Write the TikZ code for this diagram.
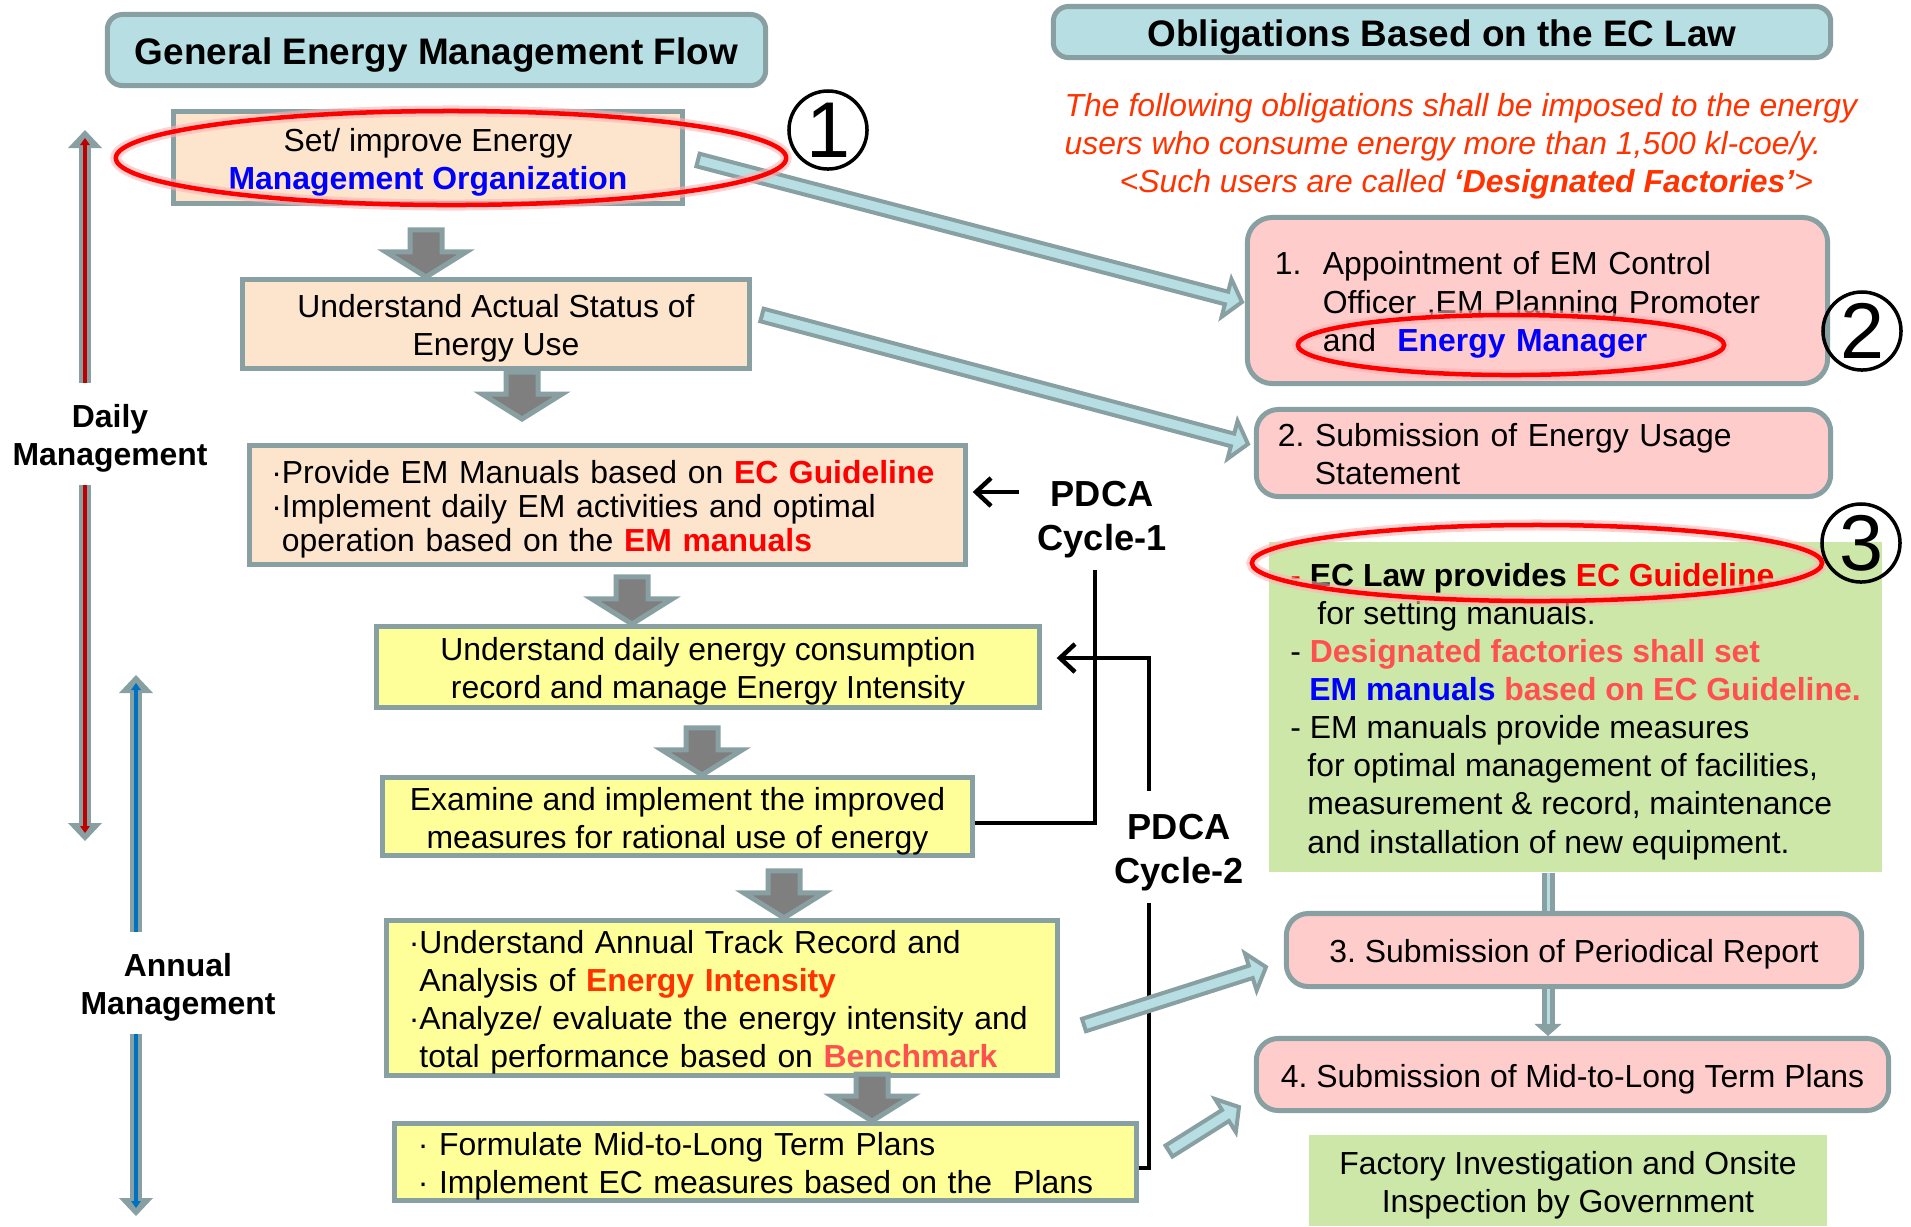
\documentclass[tikz,border=0pt]{standalone}
\usepackage{fontspec}
\setmainfont{Liberation Sans}
\usetikzlibrary{arrows.meta,calc}
\frenchspacing

\definecolor{frame}{RGB}{137,160,163}
\definecolor{lightteal}{RGB}{183,222,226}
\definecolor{peach}{RGB}{253,228,205}
\definecolor{lemon}{RGB}{255,255,153}
\definecolor{rose}{RGB}{255,204,204}
\definecolor{leaf}{RGB}{204,231,168}
\definecolor{arrowgray}{RGB}{127,127,127}
\definecolor{noteorange}{RGB}{255,51,0}
\definecolor{salmon}{RGB}{255,80,80}
\definecolor{dailyred}{RGB}{192,0,0}
\definecolor{annualblue}{RGB}{0,112,192}

\newcommand\bodyfont{\fontsize{9.07pt}{10.85pt}\selectfont}
\newcommand\headfont{\fontsize{10.5pt}{12pt}\selectfont\bfseries}
\newcommand\pdcafont{\fontsize{10.3pt}{12.5pt}\selectfont\bfseries}
\newcommand\numfont{\fontsize{22.5pt}{22.5pt}\selectfont}
% line box like the slide: ascent on top, descent below
\newcommand\lineopen{\rule{0pt}{1em}}
\newcommand\lineclose{\rule[-0.212em]{0pt}{0.212em}}

% wide light arrow from #1 to #2
\newcommand\fatarrow[2]{%
  \coordinate (fa) at ($(#2)!0.16cm!(#1)$);
  \draw[fatarr] ($(#1)!0.065cm!90:(#2)$) -- ($(fa)!0.065cm!-90:(#1)$)
    -- ($(fa)!0.195cm!-90:(#1)$) -- (#2)
    -- ($(fa)!0.195cm!90:(#1)$) -- ($(fa)!0.065cm!90:(#1)$)
    -- ($(#1)!0.065cm!-90:(#2)$) -- cycle;}
% gray down arrow ending at #1
\newcommand\blockarrow[1]{%
  \draw[blockarr] ($(#1)+(-16,-47)$) -- ($(#1)+(-16,-25)$) -- ($(#1)+(-40,-25)$)
    -- (#1) -- ($(#1)+(40,-25)$) -- ($(#1)+(16,-25)$) -- ($(#1)+(16,-47)$) -- cycle;}

\tikzset{
  lined/.style={execute at begin node=\lineopen, execute at end node=\lineclose},
  flowbox/.style={lined, draw=frame, line width=0.05cm, inner sep=0pt, align=center, font=\bodyfont},
  titlebox/.style={flowbox, fill=lightteal, rounded corners=0.15cm, font=\headfont},
  peachbox/.style={flowbox, fill=peach},
  lemonbox/.style={flowbox, fill=lemon},
  rosebox/.style={flowbox, fill=rose, rounded corners=0.22cm},
  leafbox/.style={lined, fill=leaf, inner sep=0pt, font=\bodyfont},
  note/.style={font=\bodyfont\itshape, text=noteorange, align=left, inner sep=0pt},
  sidelabel/.style={font=\bodyfont\bfseries, align=center},
  pdca/.style={font=\pdcafont, align=center},
  numring/.style={circle, draw, line width=0.035cm, minimum size=0.78cm, inner sep=0pt, font=\numfont},
  ring/.style={draw=red, line width=0.045cm, preaction={draw=red!30, line width=0.11cm, opacity=0.6}},
  blockarr/.style={draw=frame, fill=arrowgray, line width=0.05cm},
  fatarr/.style={draw=frame, fill=lightteal, line width=0.04cm},
  sidearrow/.style={draw=frame, line width=0.12cm, -{Triangle[length=0.18cm,width=0.34cm,line width=0pt]},
    postaction={draw=#1, line width=0.04cm, -{Triangle[length=0.07cm,width=0.1cm,line width=0pt]}, shorten >=0.08cm}},
  linkline/.style={draw=frame, line width=0.13cm, postaction={draw=lightteal, line width=0.03cm}},
  linkarrow/.style={draw=frame, line width=0.13cm, -{Triangle[length=0.12cm,width=0.27cm,line width=0pt]},
    postaction={draw=lightteal, line width=0.03cm, -, shorten >=0.12cm}},
  loopline/.style={draw=black, line width=0.045cm},
  looparr/.style={loopline, -{Straight Barb[length=0.15cm,width=0.28cm]}},
}

\begin{document}
\begin{tikzpicture}[x=0.01cm, y=-0.01cm]
\useasboundingbox (0,0) rectangle (1911,1226);

% headings
\node[titlebox, minimum width=6.58cm, minimum height=0.71cm] (tflow) at (436.5,50) {General Energy Management Flow};
\node[titlebox, minimum width=7.77cm, minimum height=0.51cm] (tlaw) at (1442,32) {Obligations Based on the EC Law};
\node[note, anchor=west] (note) at (1064,146) {The following obligations shall be imposed to the energy\\users who consume energy more than 1,500 kl-coe/y.\\\hspace*{0.55cm}<Such users are called \textbf{`Designated Factories'}>};

% left flow
\node[peachbox, minimum width=5.09cm, minimum height=0.92cm] (org) at (428,157.5) {\lineopen Set/ improve Energy\\\textcolor{blue}{\textbf{Management Organization}}\lineclose};
\node[peachbox, minimum width=5.07cm, minimum height=0.89cm] (status) at (496,324) {\lineopen Understand Actual Status of\\Energy Use\lineclose};
\node[peachbox, minimum width=7.15cm, minimum height=1.19cm, text width=6.72cm, inner xsep=0.215cm, align=left, font=\fontsize{9.07pt}{9.7pt}\selectfont] (manuals) at (607.5,505) {·Provide EM Manuals based on \textcolor{red}{\textbf{EC Guideline}}\\·Implement daily EM activities and optimal\\\phantom{·}operation based on the \textcolor{red}{\textbf{EM manuals}}};
\node[lemonbox, minimum width=6.62cm, minimum height=0.81cm] (record) at (708,667) {\lineopen Understand daily energy consumption\\record and manage Energy Intensity\lineclose};
\node[lemonbox, minimum width=5.90cm, minimum height=0.78cm] (examine) at (677.5,816.5) {\lineopen Examine and implement the improved\\measures for rational use of energy\lineclose};
\node[lemonbox, minimum width=6.71cm, minimum height=1.55cm, text width=6.26cm, inner xsep=0.215cm, align=left] (track) at (722,998) {·Understand Annual Track Record and\\\phantom{·}Analysis of \textcolor{noteorange}{\textbf{Energy Intensity}}\\·Analyze/ evaluate the energy intensity and\\\phantom{·}total performance based on \textcolor{salmon}{\textbf{Benchmark}}};
\node[lemonbox, minimum width=7.42cm, minimum height=0.73cm, text width=6.95cm, inner xsep=0.225cm, align=left] (plans) at (765.5,1162) {· Formulate Mid-to-Long Term Plans\\· Implement EC measures based on the~~Plans};

% gray flow arrows
\coordinate (g1) at (status.north -| 426,0);
\coordinate (g2) at (522,419);
\coordinate (g3) at (record.north -| 632,0);
\coordinate (g4) at (examine.north -| 702,0);
\coordinate (g5) at (track.north -| 784,0);
\coordinate (g6) at (plans.north -| 872,0);
\blockarrow{g1}
\blockarrow{g2}
\blockarrow{g3}
\blockarrow{g4}
\blockarrow{g5}
\blockarrow{g6}

% side scales
\node[sidelabel] (dailylbl) at (110,434) {\lineopen Daily\\Management\lineclose};
\node[sidelabel] (annuallbl) at (178,983) {\lineopen Annual\\Management\lineclose};
\coordinate (dailytop) at (85,130);
\coordinate (dailybot) at (85,841);
\coordinate (annualtop) at (136,675);
\coordinate (annualbot) at (136,1216);
\draw[sidearrow=dailyred] (dailylbl.north -| dailytop) -- (dailytop);
\draw[sidearrow=dailyred] (dailylbl.south -| dailytop) -- (dailybot);
\draw[sidearrow=annualblue] (annuallbl.north -| annualtop) -- (annualtop);
\draw[sidearrow=annualblue] (annuallbl.south -| annualtop) -- (annualbot);

% PDCA loops
\node[pdca] (pdcaA) at (1102,514) {\lineopen PDCA\\Cycle-1\lineclose};
\node[pdca] (pdcaB) at (1179,847) {\lineopen PDCA\\Cycle-2\lineclose};
\coordinate (loopA) at (1095,823);
\coordinate (backA) at (1019,492);
\coordinate (loopB) at (1149,1168);
\coordinate (backB) at (1149,658);
\draw[loopline] (loopA -| examine.east) -- (loopA) -- (loopA |- pdcaA.south);
\draw[looparr, shorten >=0.05cm] (backA) -- (backA -| manuals.east);
\draw[loopline] (loopB -| plans.east) -- (loopB) -- (loopB |- pdcaB.south);
\draw[looparr, shorten >=0.15cm] (backB |- pdcaB.north) -- (backB) -- (backB -| record.east);

% obligations
\node[rosebox, minimum width=5.80cm, minimum height=1.66cm, text width=5.25cm, inner xsep=0.275cm, align=left, rounded corners=0.25cm] (appoint) at (1537.5,300.5) {\makebox[0.48cm][l]{1.}Appointment of EM Control\\\hspace*{0.48cm}Officer ,EM Planning Promoter\\\hspace*{0.48cm}and~~\textcolor{blue}{\textbf{Energy Manager}}};
\node[rosebox, minimum width=5.74cm, minimum height=0.87cm, text width=5.31cm, inner xsep=0.215cm, align=left] (usage) at (1543.5,453) {2. Submission of Energy Usage\\\hspace*{0.37cm}Statement};
\node[leafbox, minimum width=6.13cm, minimum height=3.30cm, align=left] (guide) at (1575.5,707) {\lineopen\textcolor{red}{-} \textbf{EC Law provides \textcolor{red}{EC Guideline}}\\\hspace*{0.27cm}for setting manuals.\\- \textcolor{salmon}{\textbf{Designated factories shall set}}\\\hspace*{0.19cm}\textbf{\textcolor{blue}{EM manuals} \textcolor{salmon}{based on EC Guideline.}}\\- EM manuals provide measures\\\hspace*{0.17cm}for optimal management of facilities,\\\hspace*{0.17cm}measurement \& record, maintenance\\\hspace*{0.17cm}and installation of new equipment.\lineclose};
\node[rosebox, minimum width=5.75cm, minimum height=0.73cm] (periodic) at (1574,950) {3. Submission of Periodical Report};
\node[rosebox, minimum width=6.32cm, minimum height=0.72cm] (midlong) at (1572.5,1074.5) {4. Submission of Mid-to-Long Term Plans};
\node[leafbox, minimum width=5.18cm, minimum height=0.91cm, align=center] (inspect) at (1568,1180.5) {\lineopen Factory Investigation and Onsite\\Inspection by Government\lineclose};
\coordinate (linkx) at (1548,0);
\draw[linkline] (guide.south -| linkx) -- (periodic.north -| linkx);
\draw[linkarrow] (periodic.south -| linkx) -- (midlong.north -| linkx);

% links to obligations
\coordinate (fa1s) at (698,160);
\coordinate (fa1e) at (1242,302);
\coordinate (fa2s) at (762,315);
\coordinate (fa2e) at (1248,444);
\coordinate (fa3s) at (1084,1025);
\coordinate (fa3e) at (1266,967);
\coordinate (fa4s) at (1169,1151);
\coordinate (fa4e) at (1239,1107);
\fatarrow{fa1s}{fa1e}
\fatarrow{fa2s}{fa2e}
\fatarrow{fa3s}{fa3e}
\fatarrow{fa4s}{fa4e}

% highlights
\draw[ring] (451,158) ellipse [x radius=3.35cm, y radius=0.47cm];
\draw[ring] (1511,345) ellipse [x radius=2.13cm, y radius=0.30cm];
\draw[ring] (1537,563) ellipse [x radius=2.85cm, y radius=0.38cm];
\node[numring] (num1) at (828,130) {1};
\node[numring] (num2) at (1862,331) {2};
\node[numring] (num3) at (1861,543) {3};
\end{tikzpicture}
\end{document}
